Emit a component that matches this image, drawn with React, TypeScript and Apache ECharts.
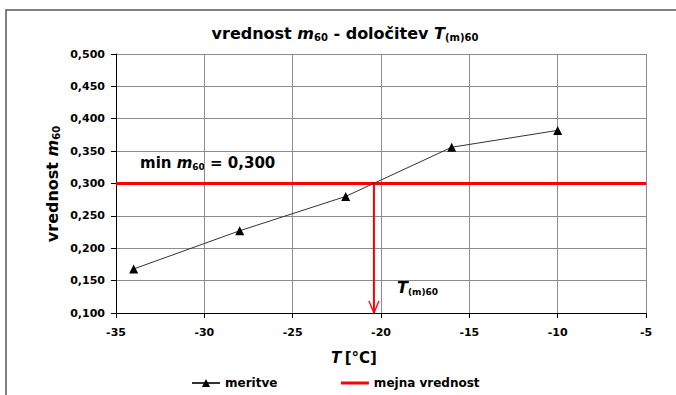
import React, { useEffect, useRef } from "react";
import * as echarts from "echarts";

const temperatures = [-34, -28, -22, -16, -10];
const m60Values = [0.168, 0.227, 0.28, 0.356, 0.382];
const limitValue = 0.3;
const limitRange = [-35, -5];
const crossingT = -20.4;
const xTicks = { min: -35, max: -5, interval: 5 };
const yTicks = { min: 0.1, max: 0.5, interval: 0.05 };
const seriesNames = ["meritve", "mejna vrednost"];

const FONT = "DejaVu Sans";

export default function App() {
  const ref = useRef<HTMLDivElement>(null);
  useEffect(() => {
    if (!ref.current) return;
    const chart = echarts.init(ref.current, null, { renderer: "svg" });
    const sub = (size: number, color: string, italic = false) => ({
      fontFamily: FONT,
      fontWeight: "bold",
      fontStyle: italic ? "italic" : "normal",
      fontSize: size,
      color,
    });
    chart.setOption({
      animation: false,
      backgroundColor: "#ffffff",
      title: {
        text: "{b|vrednost }{i|m}{s|60}{b| - določitev }{i|T}{s|(m)60}",
        left: 340,
        top: 19,
        textAlign: "center",
        textStyle: {
          rich: {
            b: { ...sub(16, "#000") },
            i: { ...sub(16, "#000", true) },
            s: { ...sub(10, "#000"), padding: [8, 0, 0, 0] },
          },
        },
      },
      grid: { left: 116, right: 30, top: 54, bottom: 82 },
      legend: {
        data: [
          { name: seriesNames[0] },
          { name: seriesNames[1], itemStyle: { opacity: 0 }, lineStyle: { width: 3 } },
        ],
        left: 186,
        top: 372,
        itemWidth: 28,
        itemHeight: 10,
        itemGap: 62,
        textStyle: { fontFamily: FONT, fontWeight: "bold", fontSize: 12, color: "#000" },
      },
      xAxis: {
        type: "value",
        min: xTicks.min,
        max: xTicks.max,
        interval: xTicks.interval,
        axisLine: { onZero: false, lineStyle: { color: "#000", width: 1 } },
        axisTick: { show: true, length: 5, lineStyle: { color: "#000" } },
        axisLabel: { color: "#000", fontFamily: FONT, fontWeight: "bold", fontSize: 11, margin: 14 },
        splitLine: { show: true, lineStyle: { color: "#8c8c8c", width: 1 } },
      },
      yAxis: {
        type: "value",
        min: yTicks.min,
        max: yTicks.max,
        interval: yTicks.interval,
        axisLine: { show: true, onZero: false, lineStyle: { color: "#000", width: 1 } },
        axisTick: { show: true, length: 5, lineStyle: { color: "#000" } },
        axisLabel: {
          color: "#000",
          fontFamily: FONT,
          fontWeight: "bold",
          fontSize: 11,
          margin: 11,
          formatter: (v: number) => v.toFixed(3).replace(".", ","),
        },
        splitLine: { show: true, lineStyle: { color: "#8c8c8c", width: 1 } },
      },
      series: [
        {
          name: seriesNames[0],
          type: "line",
          data: temperatures.map((t, i) => [t, m60Values[i]]),
          symbol: "triangle",
          symbolSize: 9,
          itemStyle: { color: "#000" },
          lineStyle: { color: "#333", width: 1 },
          z: 3,
        },
        {
          name: seriesNames[1],
          type: "line",
          data: limitRange.map((t) => [t, limitValue]),
          symbol: "none",
          itemStyle: { color: "#ff0000" },
          lineStyle: { color: "#ff0000", width: 3 },
          z: 2,
        },
        {
          name: "arrow",
          type: "line",
          data: [
            { value: [crossingT, limitValue], symbol: "none" },
            { value: [crossingT, yTicks.min], symbol: "path://M0,0L5,10L10,0" },
          ],
          symbolSize: [10, 12],
          symbolOffset: [0, -6],
          itemStyle: { color: "rgba(0,0,0,0)", borderColor: "#ff0000", borderWidth: 1.5 },
          lineStyle: { color: "#ff0000", width: 2 },
          z: 2,
        },
      ],
      graphic: [
        {
          type: "rect",
          shape: { x: 6, y: 10, width: 700, height: 420 },
          style: { fill: "none", stroke: "#555", lineWidth: 1.5 },
          silent: true,
        },
        {
          type: "text",
          x: 52,
          y: 184,
          rotation: Math.PI / 2,
          style: {
            text: "{b|vrednost }{i|m}{s|60}",
            align: "center",
            verticalAlign: "middle",
            rich: {
              b: { ...sub(16, "#000") },
              i: { ...sub(16, "#000", true) },
              s: { ...sub(10, "#000"), padding: [8, 0, 0, 0] },
            },
          },
        },
        {
          type: "text",
          x: 354,
          y: 358,
          style: {
            text: "{i|T} {b|[°C]}",
            align: "center",
            verticalAlign: "middle",
            rich: {
              b: { ...sub(15, "#000") },
              i: { ...sub(15, "#000", true) },
            },
          },
        },
        {
          type: "text",
          x: 140,
          y: 163,
          style: {
            text: "{b|min }{i|m}{s|60}{b| = 0,300}",
            align: "left",
            verticalAlign: "middle",
            rich: {
              b: { ...sub(15, "#cc0000") },
              i: { ...sub(15, "#cc0000", true) },
              s: { ...sub(9, "#cc0000"), padding: [8, 0, 0, 0] },
            },
          },
        },
        {
          type: "text",
          x: 397,
          y: 287,
          style: {
            text: "{i|T}{s|(m)60}",
            align: "left",
            verticalAlign: "middle",
            rich: {
              i: { ...sub(16, "#cc0000", true) },
              s: { ...sub(9, "#cc0000"), padding: [9, 0, 0, 0] },
            },
          },
        },
      ],
    });
    return () => chart.dispose();
  }, []);
  return (
    <div
      ref={ref}
      style={{ position: "absolute", left: 0, top: 0, width: 676, height: 395 }}
    />
  );
}
